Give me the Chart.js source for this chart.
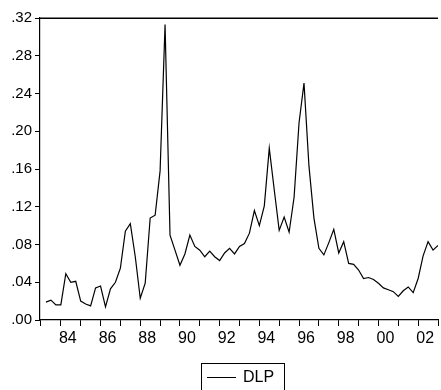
<!DOCTYPE html>
<html>
<head>
<meta charset="utf-8">
<script src="https://cdn.jsdelivr.net/npm/chart.js@4/dist/chart.umd.min.js"></script>
<style>
  html, body { margin: 0; padding: 0; background: #fff; }
  #wrap { width: 441px; height: 390px; position: relative; }
</style>
</head>
<body>
<div id="wrap"><canvas id="c" width="441" height="390"></canvas></div>
<script>
// Quarterly periods: 1983Q2 .. 2003Q1
const startYear = 1983, startQuarter = 2, nObs = 80;
const periods = [];
for (let i = 0; i < nObs; i++) {
  const idx = startYear * 4 + (startQuarter - 1) + i;
  periods.push(Math.floor(idx / 4) + 'Q' + (idx % 4 + 1));
}

const seriesName = 'DLP';
const dlp = [
  0.019, 0.021, 0.016, 0.016, 0.049, 0.040, 0.041, 0.020,
  0.017, 0.015, 0.034, 0.036, 0.014, 0.033, 0.040, 0.055,
  0.094, 0.102, 0.067, 0.023, 0.039, 0.108, 0.111, 0.158,
  0.313, 0.090, 0.074, 0.058, 0.070, 0.090, 0.078, 0.074,
  0.067, 0.073, 0.067, 0.063, 0.071, 0.076, 0.070, 0.078,
  0.081, 0.092, 0.116, 0.100, 0.121, 0.182, 0.138, 0.095,
  0.109, 0.093, 0.130, 0.209, 0.251, 0.163, 0.108, 0.076,
  0.069, 0.082, 0.096, 0.071, 0.083, 0.060, 0.059, 0.053,
  0.044, 0.045, 0.043, 0.039, 0.034, 0.032, 0.030, 0.025,
  0.031, 0.035, 0.029, 0.044, 0.068, 0.083, 0.074, 0.079
];

const yTicks = [0, 0.04, 0.08, 0.12, 0.16, 0.20, 0.24, 0.28, 0.32];
const xLabelYears = [1984, 1986, 1988, 1990, 1992, 1994, 1996, 1998, 2000, 2002];

function periodToX(p) {
  const y = parseInt(p.slice(0, 4), 10);
  const q = parseInt(p.slice(5), 10);
  return y + (q - 1) / 4;
}

const points = periods.map((p, i) => ({ x: periodToX(p), y: dlp[i] }));

const frameTop = {
  id: 'frameTop',
  afterDraw(chart) {
    const { ctx, chartArea } = chart;
    ctx.save();
    ctx.strokeStyle = '#000';
    ctx.lineWidth = 1.5;
    ctx.beginPath();
    ctx.moveTo(chartArea.left, chartArea.top + 0.25);
    ctx.lineTo(chartArea.right, chartArea.top + 0.25);
    ctx.stroke();
    ctx.restore();
  }
};

const boxLegend = {
  id: 'boxLegend',
  afterDraw(chart) {
    const { ctx } = chart;
    ctx.save();
    ctx.strokeStyle = '#000';
    ctx.lineWidth = 1;
    ctx.strokeRect(201.5, 363.5, 83, 40);
    ctx.beginPath();
    ctx.moveTo(207, 377.5);
    ctx.lineTo(236, 377.5);
    ctx.stroke();
    ctx.fillStyle = '#000';
    ctx.font = '16px "Liberation Sans", Arial, sans-serif';
    ctx.textBaseline = 'middle';
    ctx.textAlign = 'left';
    ctx.fillText(seriesName, 243, 378);
    ctx.restore();
  }
};

new Chart(document.getElementById('c'), {
  type: 'line',
  data: {
    datasets: [{
      label: seriesName,
      data: points,
      borderColor: '#000',
      borderWidth: 1.2,
      pointRadius: 0,
      tension: 0,
      fill: false
    }]
  },
  options: {
    responsive: false,
    animation: false,
    parsing: true,
    layout: { padding: { top: 18, right: 0, left: 0, bottom: 0 } },
    plugins: { legend: { display: false }, tooltip: { enabled: false } },
    scales: {
      x: {
        type: 'linear',
        min: 1982.95,
        max: 2003.0,
        afterFit: s => { s.height = 70; },
        afterBuildTicks: s => {
          const t = [];
          for (let y = 1983; y <= 2003; y++) t.push({ value: y });
          s.ticks = t;
        },
        ticks: {
          autoSkip: false,
          maxRotation: 0,
          includeBounds: false,
          labelOffset: 7,
          padding: 3,
          color: '#000',
          font: { family: '"Liberation Sans", Arial, sans-serif', size: 16 },
          callback: v => xLabelYears.includes(v) ? String(v % 100).padStart(2, '0') : ''
        },
        grid: { drawOnChartArea: false, drawTicks: true, tickLength: 6, color: '#000', lineWidth: 1 },
        border: { display: true, color: '#000', width: 1.2 }
      },
      y: {
        type: 'linear',
        min: 0,
        max: 0.32,
        afterFit: s => { s.width = 40; },
        afterBuildTicks: s => { s.ticks = yTicks.map(v => ({ value: v })); },
        ticks: {
          padding: 3,
          color: '#000',
          font: { family: '"Liberation Sans", Arial, sans-serif', size: 15 },
          callback: v => v.toFixed(2).replace(/^0/, '')
        },
        grid: { drawOnChartArea: false, drawTicks: true, tickLength: 5, color: '#000', lineWidth: 1 },
        border: { display: true, color: '#000', width: 1.2 }
      }
    }
  },
  plugins: [frameTop, boxLegend]
});
</script>
</body>
</html>
